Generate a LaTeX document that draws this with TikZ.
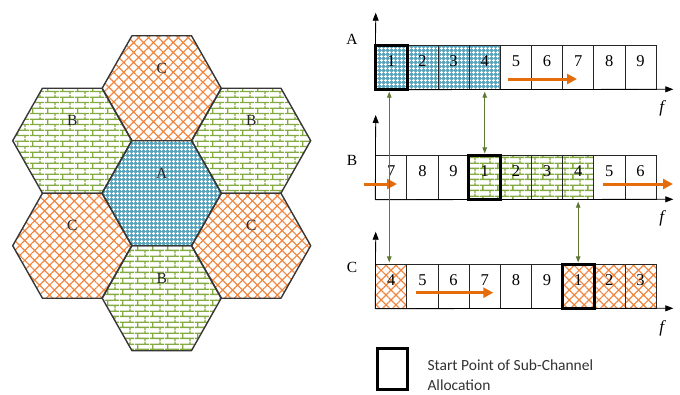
\documentclass[tikz,border=0pt]{standalone}
\usepackage{fontspec}
\setmainfont{Liberation Serif}
\newfontfamily\legendfont{Carlito}
\usetikzlibrary{patterns,patterns.meta,arrows.meta}
\definecolor{hexline}{RGB}{55,55,55}
\definecolor{ablue}{RGB}{88,164,188}
\definecolor{bgreen}{RGB}{132,170,66}
\definecolor{corange}{RGB}{240,135,65}
\definecolor{arrorange}{RGB}{228,108,10}
\definecolor{linkgreen}{RGB}{95,120,50}
\definecolor{legendgray}{RGB}{50,50,50}

\pgfdeclarepatternformonly{myplusgrid}{\pgfpointorigin}{\pgfpoint{4pt}{4pt}}{\pgfpoint{4pt}{4pt}}{%
 \pgfpathrectangle{\pgfpoint{1.35pt}{0.3pt}}{\pgfpoint{1.3pt}{3.4pt}}%
 \pgfpathrectangle{\pgfpoint{0.3pt}{1.35pt}}{\pgfpoint{3.4pt}{1.3pt}}%
 \pgfusepath{fill}}

\pgfdeclarepatternformonly{mybrickwall}{\pgfpointorigin}{\pgfpoint{15pt}{10.6pt}}{\pgfpoint{15pt}{10.6pt}}{%
 \pgfsetlinewidth{1.4pt}%
 \pgfpathmoveto{\pgfpoint{0pt}{2.65pt}}\pgfpathlineto{\pgfpoint{15pt}{2.65pt}}%
 \pgfpathmoveto{\pgfpoint{0pt}{7.95pt}}\pgfpathlineto{\pgfpoint{15pt}{7.95pt}}%
 \pgfpathmoveto{\pgfpoint{3pt}{2.65pt}}\pgfpathlineto{\pgfpoint{3pt}{7.95pt}}%
 \pgfpathmoveto{\pgfpoint{10.5pt}{7.95pt}}\pgfpathlineto{\pgfpoint{10.5pt}{10.6pt}}%
 \pgfpathmoveto{\pgfpoint{10.5pt}{0pt}}\pgfpathlineto{\pgfpoint{10.5pt}{2.65pt}}%
 \pgfusepath{stroke}}

\tikzset{
 fillA/.style={preaction={fill=ablue}, pattern=myplusgrid, pattern color=white},
 fillB/.style={pattern=mybrickwall, pattern color=bgreen},
 fillC/.style={pattern={Hatch[angle=45,distance=7pt,line width=1.2pt]}, pattern color=corange},
 fillN/.style={},
 hexedge/.style={draw=hexline, line width=1.4pt, line join=round},
 hexlabel/.style={font=\fontsize{15.5}{15.5}\selectfont, text=black!85, inner sep=0pt},
 cell/.style={draw=black!85, line width=0.8pt, minimum width=31.15pt, minimum height=43.5pt,
   inner sep=0pt, text height=8pt, text depth=10.7pt, font=\fontsize{16.5}{16.5}\selectfont},
 startbox/.style={draw=black, line width=3pt},
 axisline/.style={draw=black, line width=0.8pt, -{Triangle[length=8pt,width=6pt]}},
 rowlabel/.style={font=\fontsize{15.5}{15.5}\selectfont, inner sep=0pt},
 flabel/.style={font=\itshape\fontsize{17}{17}\selectfont, inner sep=0pt},
 orangearrow/.style={draw=arrorange, line width=3pt, -{Triangle[length=10pt,width=10pt]}},
 linkarrow/.style={draw=linkgreen, line width=0.9pt, shorten <=2pt, shorten >=2pt,
   {Triangle[length=6pt,width=4.5pt]}-{Triangle[length=6pt,width=4.5pt]}},
 legendbox/.style={draw=black, line width=3pt, minimum width=30.3pt, minimum height=41pt, inner sep=0pt},
 legendtext/.style={font=\legendfont\fontsize{15.5}{20}\selectfont, text=legendgray, align=left, inner sep=0pt}
}

\newcommand{\hexat}[5]{%
 \path[#3,hexedge] (#1,#2) ++(59.5,0) -- ++(-29.75,-52.5) -- ++(-59.5,0) -- ++(-29.75,52.5)
   -- ++(29.75,52.5) -- ++(59.5,0) -- cycle;
 \node[hexlabel] (#5) at (#1,#2-20) {#4};}

\begin{document}
\begin{tikzpicture}[x=1pt,y=-1pt]
\useasboundingbox (0,0) rectangle (680,394);

% hexagons
\hexat{161.7}{88.2}{fillC}{C}{hC1}
\hexat{72.2}{140.7}{fillB}{B}{hB1}
\hexat{251.2}{140.7}{fillB}{B}{hB2}
\hexat{72.2}{245.7}{fillC}{C}{hC2}
\hexat{251.2}{245.7}{fillC}{C}{hC3}
\hexat{161.7}{298.2}{fillB}{B}{hB3}
\hexat{161.7}{193.2}{fillA}{A}{hA}

% row A
\foreach \n/\s [count=\i] in {1/fillA,2/fillA,3/fillA,4/fillA,5/fillN,6/fillN,7/fillN,8/fillN,9/fillN}
  \node[cell,\s] (a\i) at ({375.7+(\i-0.5)*31.15},67.55) {\n};
% row B
\foreach \n/\s [count=\i] in {7/fillN,8/fillN,9/fillN,1/fillB,2/fillB,3/fillB,4/fillB,5/fillN,6/fillN}
  \node[cell,\s] (b\i) at ({375.7+(\i-0.5)*31.15},177.55) {\n};
% row C
\foreach \n/\s [count=\i] in {4/fillC,5/fillN,6/fillN,7/fillN,8/fillN,9/fillN,1/fillC,2/fillC,3/fillC}
  \node[cell,\s] (c\i) at ({375.7+(\i-0.5)*31.15},286.55) {\n};

% start boxes
\draw[startbox] (a1.south west) rectangle (a1.north east);
\draw[startbox] (b4.south west) rectangle (b4.north east);
\draw[startbox] (c7.south west) rectangle (c7.north east);

% axes
\coordinate (aY) at (375.7,12.7);
\coordinate (aX) at (673.3,89.3);
\coordinate (bY) at (375.7,115);
\coordinate (bX) at (673.3,199.3);
\coordinate (cY) at (375.7,231.7);
\coordinate (cX) at (673.3,308.3);
\draw[axisline] (a1.south west) -- (aY);
\draw[axisline] (a1.south west) -- (aX);
\draw[axisline] (b1.south west) -- (bY);
\draw[axisline] (b1.south west) -- (bX);
\draw[axisline] (c1.south west) -- (cY);
\draw[axisline] (c1.south west) -- (cX);

% row labels
\node[rowlabel] (lA) at (352,39.7) {A};
\node[rowlabel] (lB) at (352,160) {B};
\node[rowlabel] (lC) at (352,267.3) {C};
\node[flabel] (fA) at (661.7,108.3) {f};
\node[flabel] (fB) at (661.7,218) {f};
\node[flabel] (fC) at (661.7,328.3) {f};

% orange arrows
\coordinate (oA1) at (508,79);
\coordinate (oA2) at (577,79);
\coordinate (oB1) at (364,184);
\coordinate (oB2) at (397,184);
\coordinate (oB3) at (603,184);
\coordinate (oB4) at (673,184);
\coordinate (oC1) at (416,292.7);
\coordinate (oC2) at (493.3,292.7);
\draw[orangearrow] (oA1) -- (oA2);
\draw[orangearrow] (oB1) -- (oB2);
\draw[orangearrow] (oB3) -- (oB4);
\draw[orangearrow] (oC1) -- (oC2);

% green links
\draw[linkarrow] ([xshift=-2pt]a1.south) -- ([xshift=-2pt]c1.north);
\draw[linkarrow] (a4.south) -- (b4.north);
\draw[linkarrow] (b7.south) -- (c7.north);

% legend
\node[legendbox] (lgbox) at (392.35,368.7) {};
\node[legendtext, anchor=west] (lgtext) at (427.3,375) {Start Point of Sub-Channel\\Allocation};
\end{tikzpicture}
\end{document}
